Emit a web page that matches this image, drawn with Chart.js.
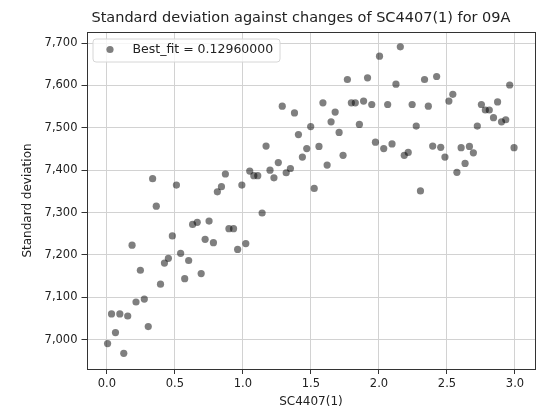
<!DOCTYPE html>
<html>
<head>
<meta charset="utf-8">
<script src="https://cdn.jsdelivr.net/npm/chart.js@4/dist/chart.umd.min.js"></script>
<style>
  html, body { margin: 0; padding: 0; background: #fff; }
</style>
</head>
<body>
<canvas id="chart" width="539" height="412"></canvas>
<script>
'use strict';

// ── Data ──────────────────────────────────────────────────────────────────
const chartTitle  = 'Standard deviation against changes of SC4407(1) for 09A';
const xLabel      = 'SC4407(1)';
const yLabel      = 'Standard deviation';
const seriesLabel = 'Best_fit = 0.12960000';

const xValues = [
  0.005, 0.034, 0.063, 0.095, 0.124, 0.153, 0.185, 0.214, 0.246, 0.275,
  0.304, 0.336, 0.363, 0.394, 0.423, 0.452, 0.481, 0.511, 0.542, 0.572,
  0.601, 0.630, 0.664, 0.693, 0.722, 0.751, 0.783, 0.812, 0.842, 0.871,
  0.897, 0.931, 0.961, 0.992, 1.021, 1.050, 1.080, 1.109, 1.141, 1.170,
  1.199, 1.228, 1.260, 1.289, 1.318, 1.349, 1.379, 1.408, 1.437, 1.469,
  1.498, 1.524, 1.559, 1.588, 1.619, 1.648, 1.678, 1.707, 1.736, 1.768,
  1.797, 1.826, 1.856, 1.887, 1.916, 1.947, 1.974, 2.004, 2.035, 2.064,
  2.096, 2.125, 2.157, 2.186, 2.215, 2.244, 2.274, 2.305, 2.335, 2.363,
  2.395, 2.424, 2.454, 2.485, 2.514, 2.543, 2.573, 2.604, 2.633, 2.665,
  2.694, 2.723, 2.753, 2.782, 2.811, 2.842, 2.872, 2.901, 2.932, 2.993,
  2.961
];
const yValues = [
  6991, 7061, 7017, 7061, 6968, 7056, 7223, 7089, 7164, 7096,
  7031, 7380, 7315, 7131, 7181, 7192, 7245, 7365, 7204, 7144,
  7187, 7272, 7277, 7156, 7237, 7280, 7229, 7349, 7361, 7391,
  7262, 7262, 7213, 7365, 7227, 7398, 7387, 7387, 7299, 7457,
  7400, 7382, 7418, 7551, 7394, 7404, 7535, 7484, 7431, 7451,
  7503, 7357, 7456, 7559, 7412, 7514, 7537, 7489, 7435, 7614,
  7559, 7559, 7508, 7563, 7618, 7555, 7466, 7669, 7451, 7555,
  7462, 7603, 7691, 7435, 7442, 7555, 7504, 7351, 7614, 7551,
  7457, 7621, 7454, 7431, 7563, 7579, 7395, 7453, 7416, 7456,
  7441, 7504, 7555, 7542, 7542, 7524, 7561, 7514, 7519, 7453,
  7601
];

const xTicks = [0, 0.5, 1, 1.5, 2, 2.5, 3];
const yTicks = [7000, 7100, 7200, 7300, 7400, 7500, 7600, 7700];

// ── Styling ───────────────────────────────────────────────────────────────
const FONT      = '"DejaVu Sans", sans-serif';
const TEXT      = '#222';
const GRID      = '#d2d2d2';
const SPINE     = '#333';
const POINT     = 'rgba(0,0,0,0.5)';

// frame, title centred over the axes, legend inside the axes
const axesDecor = {
  id: 'axesDecor',
  afterDraw(chart) {
    const { ctx, chartArea: a } = chart;
    ctx.save();
    ctx.strokeStyle = SPINE;
    ctx.lineWidth = 1;
    ctx.strokeRect(Math.round(a.left) + 0.5, Math.round(a.top) + 0.5,
                   Math.round(a.right - a.left) - 1, Math.round(a.bottom - a.top));

    ctx.fillStyle = TEXT;
    ctx.font = `14.5px ${FONT}`;
    ctx.textAlign = 'center';
    ctx.textBaseline = 'middle';
    ctx.fillText(chartTitle, (a.left + a.right) / 2 - 10, 18);

    // legend box
    const bx = a.left + 6, by = a.top + 6.5, bw = 187, bh = 23;
    ctx.beginPath();
    ctx.roundRect(bx + 0.5, by + 0.5, bw, bh, 3);
    ctx.fillStyle = 'rgba(255,255,255,0.8)';
    ctx.fill();
    ctx.strokeStyle = '#d6d6d6';
    ctx.stroke();

    ctx.beginPath();
    ctx.arc(bx + 17.5, by + 11, 3.6, 0, Math.PI * 2);
    ctx.fillStyle = chart.data.datasets[0].backgroundColor;
    ctx.fill();

    ctx.fillStyle = TEXT;
    ctx.font = `12.5px ${FONT}`;
    ctx.textAlign = 'left';
    ctx.fillText(chart.data.datasets[0].label, bx + 40, by + 11.5);
    ctx.restore();
  }
};

const tickFont = { family: FONT, size: 11.5 };

new Chart(document.getElementById('chart'), {
  type: 'scatter',
  data: {
    datasets: [{
      label: seriesLabel,
      data: xValues.map((x, i) => ({ x, y: yValues[i] })),
      backgroundColor: POINT,
      borderWidth: 0,
      pointRadius: 3.6,
      pointHoverRadius: 3.6,
    }]
  },
  options: {
    responsive: false,
    animation: false,
    events: [],
    layout: { padding: { top: 32, right: 2, bottom: 0, left: 0 } },
    plugins: { legend: { display: false }, title: { display: false }, tooltip: { enabled: false } },
    scales: {
      x: {
        type: 'linear',
        min: -0.15, max: 3.15,
        afterBuildTicks: s => { s.ticks = xTicks.map(v => ({ value: v })); },
        afterFit: s => { s.height = 43; },
        ticks: { font: tickFont, color: TEXT, padding: 3, callback: v => v.toFixed(1) },
        grid: { color: GRID, lineWidth: 1, tickColor: SPINE, tickLength: 5 },
        border: { display: false },
        title: { display: true, text: xLabel, color: TEXT, font: { family: FONT, size: 12 },
                 padding: { top: 0, bottom: 3 } },
      },
      y: {
        type: 'linear',
        min: 6931, max: 7726,
        afterBuildTicks: s => { s.ticks = yTicks.map(v => ({ value: v })); },
        afterFit: s => { s.width = 86.5; },
        ticks: { font: tickFont, color: TEXT, padding: 4, callback: v => v.toLocaleString('en-US') },
        grid: { color: GRID, lineWidth: 1, tickColor: SPINE, tickLength: 5 },
        border: { display: false },
        title: { display: true, text: yLabel, color: TEXT, font: { family: FONT, size: 12 },
                 padding: { top: 21, bottom: 0 } },
      },
    },
  },
  plugins: [axesDecor],
});
</script>
</body>
</html>
